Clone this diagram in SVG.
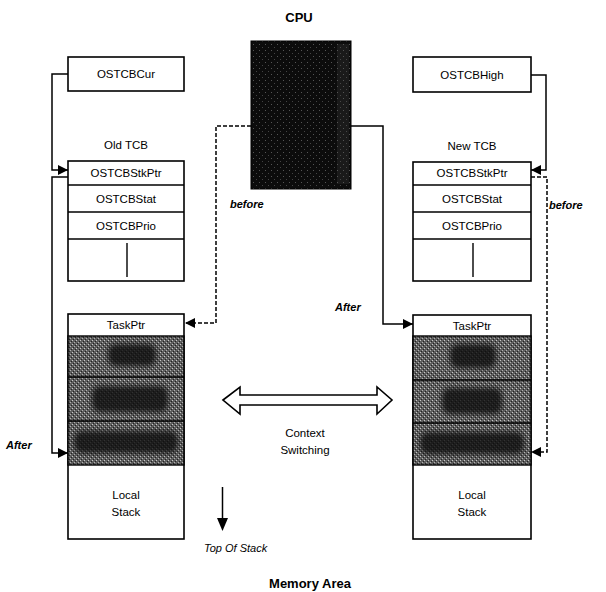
<svg xmlns="http://www.w3.org/2000/svg" width="606" height="592" viewBox="0 0 606 592">
<style>
.box{fill:#fff;stroke:#000;stroke-width:1.6}
.div{stroke:#000;stroke-width:1.4}
.t{font-family:"Liberation Sans",Arial,sans-serif;font-size:11.5px;fill:#000;text-anchor:middle}
.i{font-family:"Liberation Sans",Arial,sans-serif;font-size:11px;font-style:italic;fill:#000}
.b{font-family:"Liberation Sans",Arial,sans-serif;font-size:13px;font-weight:bold;fill:#000;text-anchor:middle}
.c{fill:none;stroke:#000;stroke-width:1.5}
.d{fill:none;stroke:#000;stroke-width:1.5;stroke-dasharray:4 2}
.sh{fill:url(#ht);stroke:#000;stroke-width:1.4}
.blob{fill:#111;opacity:0.8;filter:url(#soft)}
</style>
<defs>
<filter id="soft" x="-20%" y="-40%" width="140%" height="180%"><feGaussianBlur stdDeviation="2.5"/></filter>
<pattern id="ht" width="4" height="4" patternUnits="userSpaceOnUse">
<rect width="4" height="4" fill="#5e5e5e"/>
<rect x="0" y="0" width="1" height="1" fill="#c8c8c8"/>
<rect x="2" y="2" width="1" height="1" fill="#b0b0b0"/>
<rect x="1" y="3" width="1" height="1" fill="#222"/>
<rect x="3" y="1" width="1" height="1" fill="#222"/>
</pattern>
<pattern id="cpu" width="6" height="6" patternUnits="userSpaceOnUse">
<rect width="6" height="6" fill="#0c0c0c"/>
<rect x="1" y="2" width="1" height="1" fill="#555"/>
<rect x="4" y="5" width="1" height="1" fill="#444"/>
</pattern>
<marker id="ah" markerWidth="10" markerHeight="10" refX="10" refY="5" orient="auto" markerUnits="userSpaceOnUse">
<path d="M0,0 L10,5 L0,10 z" fill="#000"/>
</marker>
</defs>

<g id="cpu-label"><text class="b" x="299" y="22">CPU</text></g>
<g id="cpu-box">
<rect x="251" y="41" width="100" height="148" fill="url(#cpu)" stroke="#000" stroke-width="1"/>
<rect x="337" y="44" width="12" height="140" fill="#555" opacity="0.2"/>
</g>

<g id="ostcbcur"><rect class="box" x="68" y="57" width="116" height="34"/><text class="t" x="126" y="78">OSTCBCur</text></g>
<g id="ostcbhigh"><rect class="box" x="413" y="57" width="118" height="35"/><text class="t" x="472" y="79">OSTCBHigh</text></g>

<g id="old-tcb">
<text class="t" x="126" y="149">Old TCB</text>
<rect class="box" x="68" y="161" width="116" height="120"/>
<line class="div" x1="68" y1="185" x2="184" y2="185"/>
<line class="div" x1="68" y1="212" x2="184" y2="212"/>
<line class="div" x1="68" y1="239" x2="184" y2="239"/>
<line class="div" x1="127" y1="243" x2="127" y2="277"/>
<text class="t" x="126" y="177">OSTCBStkPtr</text>
<text class="t" x="126" y="203">OSTCBStat</text>
<text class="t" x="126" y="230">OSTCBPrio</text>
</g>

<g id="new-tcb">
<text class="t" x="472" y="150">New TCB</text>
<rect class="box" x="413" y="162" width="118" height="119"/>
<line class="div" x1="413" y1="185" x2="531" y2="185"/>
<line class="div" x1="413" y1="212" x2="531" y2="212"/>
<line class="div" x1="413" y1="239" x2="531" y2="239"/>
<line class="div" x1="473" y1="243" x2="473" y2="277"/>
<text class="t" x="472" y="177">OSTCBStkPtr</text>
<text class="t" x="472" y="203">OSTCBStat</text>
<text class="t" x="472" y="230">OSTCBPrio</text>
</g>

<g id="old-stack">
<rect class="box" x="68" y="314" width="116" height="225"/>
<rect class="sh" x="68" y="336" width="116" height="129"/>
<rect class="blob" x="108" y="344" width="48" height="22" rx="8"/>
<rect class="blob" x="92" y="386" width="76" height="26" rx="8"/>
<rect class="blob" x="74" y="431" width="104" height="22" rx="8"/>
<line class="div" x1="68" y1="377" x2="184" y2="377"/>
<line class="div" x1="68" y1="421" x2="184" y2="421"/>
<text class="t" x="126" y="329">TaskPtr</text>
<text class="t" x="126" y="499">Local</text>
<text class="t" x="126" y="516">Stack</text>
</g>

<g id="new-stack">
<rect class="box" x="413" y="315" width="118" height="224"/>
<rect class="sh" x="413" y="336" width="118" height="129"/>
<rect class="blob" x="450" y="344" width="46" height="24" rx="8"/>
<rect class="blob" x="442" y="388" width="60" height="26" rx="8"/>
<rect class="blob" x="420" y="432" width="104" height="22" rx="8"/>
<line class="div" x1="413" y1="380" x2="531" y2="380"/>
<line class="div" x1="413" y1="423" x2="531" y2="423"/>
<text class="t" x="472" y="330">TaskPtr</text>
<text class="t" x="472" y="499">Local</text>
<text class="t" x="472" y="516">Stack</text>
</g>

<g id="context-switch">
<polygon points="223,400 240,387 240,395 377,395 377,387 392,400 377,414 377,405 240,405 240,414" fill="#fff" stroke="#000" stroke-width="1.6" stroke-linejoin="miter"/>
<text class="t" x="305" y="437">Context</text>
<text class="t" x="305" y="454">Switching</text>
</g>

<g id="top-of-stack">
<line x1="222.5" y1="487" x2="222.5" y2="519" stroke="#000" stroke-width="1.5"/>
<polygon points="217,518 228,518 222.5,531" fill="#000"/>
<text class="i" x="204" y="552">Top Of Stack</text>
</g>

<g id="memory-area"><text class="b" x="310" y="588" font-size="12.5">Memory  Area</text></g>

<g id="connectors">
<path class="c" d="M68,74 H52 V170 H68" marker-end="url(#ah)"/>
<path class="c" d="M68,177 H52 V453 H68" marker-end="url(#ah)"/>
<path class="d" d="M251,126 H216 V323 H185" marker-end="url(#ah)"/>
<path class="c" d="M351,126 H383 V324 H413" marker-end="url(#ah)"/>
<path class="c" d="M531,75 H546 V170 H531" marker-end="url(#ah)"/>
<path class="d" d="M531,177 H547 V452 H531" marker-end="url(#ah)"/>
</g>

<g id="labels">
<text class="i" x="230" y="208" font-weight="bold">before</text>
<text class="i" x="549" y="209" font-weight="bold">before</text>
<text class="i" x="335" y="311" font-weight="bold">After</text>
<text class="i" x="6" y="449" font-weight="bold">After</text>
</g>
</svg>
